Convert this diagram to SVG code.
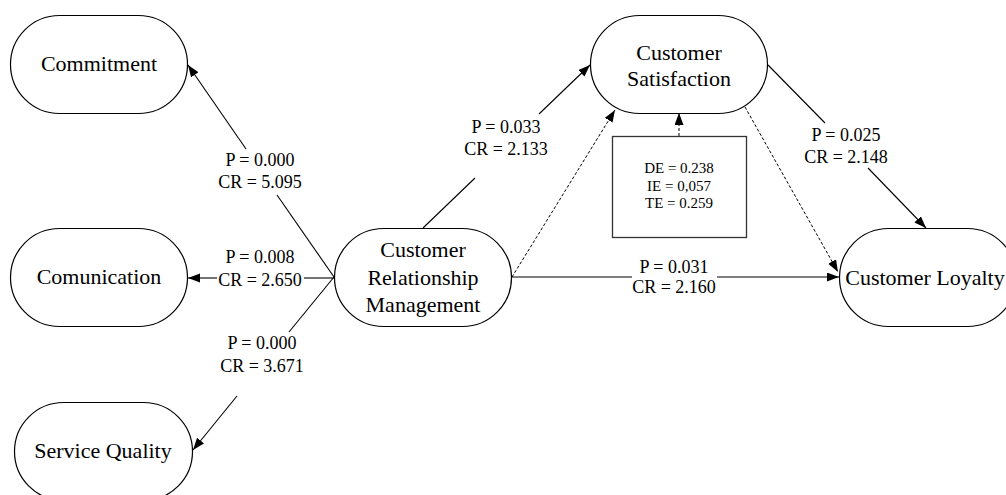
<svg xmlns="http://www.w3.org/2000/svg" width="1006" height="495" viewBox="0 0 1006 495">
<style>
.node{fill:#fff;stroke:#000;stroke-width:1.2}
.nt{font-family:"Liberation Serif","Times New Roman",serif;font-size:22px;fill:#000;text-anchor:middle}
.lb{font-family:"Liberation Serif","Times New Roman",serif;font-size:18px;fill:#000;text-anchor:middle}
.bt{font-family:"Liberation Serif","Times New Roman",serif;font-size:15px;fill:#000;text-anchor:middle}
.ln{fill:none;stroke:#000;stroke-width:1.1}
.dash{fill:none;stroke:#000;stroke-width:1;stroke-dasharray:3,2}
.box{fill:#fff;stroke:#333;stroke-width:1.3}
</style>
<defs>
<marker id="ah" markerUnits="userSpaceOnUse" markerWidth="13" markerHeight="10" refX="12" refY="4.5" orient="auto">
<path d="M0,0 L12,4.5 L0,9 z" fill="#000"/>
</marker>
</defs>
<g id="connectors">
<line class="ln" x1="334" y1="277" x2="277" y2="195"/>
<line class="ln" x1="246" y1="149" x2="188" y2="65" marker-end="url(#ah)"/>
<line class="ln" x1="334" y1="278" x2="304" y2="278"/>
<line class="ln" x1="217" y1="278" x2="188" y2="278" marker-end="url(#ah)"/>
<line class="ln" x1="334" y1="277" x2="289" y2="332"/>
<line class="ln" x1="237" y1="396" x2="193" y2="450" marker-end="url(#ah)"/>
<line class="ln" x1="423" y1="228" x2="475" y2="178"/>
<line class="ln" x1="539" y1="114" x2="590" y2="65" marker-end="url(#ah)"/>
<line class="dash" x1="512" y1="277" x2="615" y2="110" marker-end="url(#ah)"/>
<line class="dash" x1="679" y1="136" x2="679" y2="113" marker-end="url(#ah)"/>
<line class="ln" x1="511" y1="277" x2="632" y2="277"/>
<line class="ln" x1="717" y1="277" x2="839" y2="277" marker-end="url(#ah)"/>
<line class="dash" x1="745" y1="107" x2="838" y2="272" marker-end="url(#ah)"/>
<line class="ln" x1="768" y1="65" x2="825" y2="123"/>
<line class="ln" x1="868" y1="168" x2="926" y2="228" marker-end="url(#ah)"/>
<text class="lb" x="260" y="166">P = 0.000</text>
<text class="lb" x="260" y="188">CR = 5.095</text>
<text class="lb" x="260" y="263">P = 0.008</text>
<text class="lb" x="260" y="286">CR = 2.650</text>
<text class="lb" x="262" y="349">P = 0.000</text>
<text class="lb" x="262" y="372">CR = 3.671</text>
<text class="lb" x="506" y="133">P = 0.033</text>
<text class="lb" x="506" y="155">CR = 2.133</text>
<text class="lb" x="674" y="273">P = 0.031</text>
<text class="lb" x="674" y="293">CR = 2.160</text>
<text class="lb" x="846" y="141">P = 0.025</text>
<text class="lb" x="846" y="163">CR = 2.148</text>
</g>
<g id="commitment">
<rect class="node" x="10.5" y="15.5" width="177" height="98" rx="49" ry="49"/>
<text class="nt" x="99" y="71">Commitment</text>
</g>
<g id="comunication">
<rect class="node" x="10.5" y="228.5" width="177" height="98" rx="49" ry="49"/>
<text class="nt" x="99" y="284">Comunication</text>
</g>
<g id="service-quality">
<rect class="node" x="14.5" y="402.5" width="178" height="98" rx="49" ry="49"/>
<text class="nt" x="103" y="458">Service Quality</text>
</g>
<g id="crm">
<rect class="node" x="334.5" y="228.5" width="177" height="98" rx="49" ry="49"/>
<text class="nt" x="423" y="257">Customer</text>
<text class="nt" x="423" y="285">Relationship</text>
<text class="nt" x="423" y="312">Management</text>
</g>
<g id="customer-satisfaction">
<rect class="node" x="590.5" y="15.5" width="177" height="98" rx="49" ry="49"/>
<text class="nt" x="679" y="60">Customer</text>
<text class="nt" x="679" y="86">Satisfaction</text>
</g>
<g id="customer-loyalty">
<rect class="node" x="839.5" y="228.5" width="177" height="98" rx="49" ry="49"/>
<text class="nt" x="925" y="285">Customer Loyalty</text>
</g>
<g id="effects-box">
<rect class="box" x="612.5" y="136.5" width="134" height="101"/>
<text class="bt" x="679" y="173">DE = 0.238</text>
<text class="bt" x="679" y="191">IE = 0,057</text>
<text class="bt" x="679" y="208">TE = 0.259</text>
</g>
</svg>
